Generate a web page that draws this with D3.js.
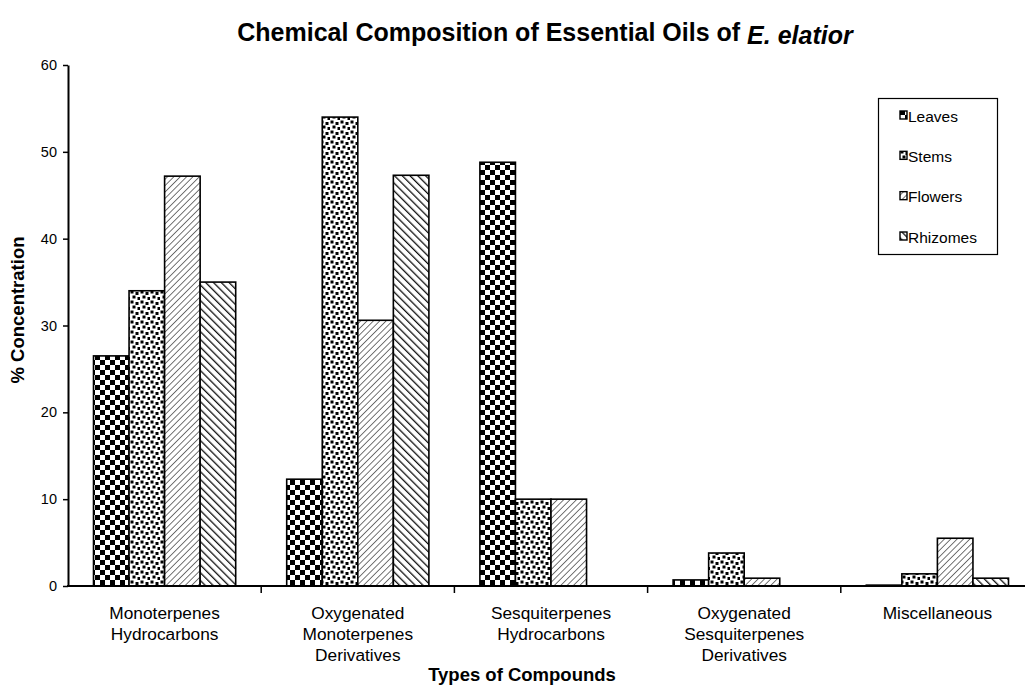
<!DOCTYPE html>
<html><head><meta charset="utf-8">
<script src="https://cdn.jsdelivr.net/npm/d3@7"></script>
<style>
html,body{margin:0;padding:0;background:#fff;}
svg{display:block;font-family:"Liberation Sans",Arial,sans-serif;}
</style></head>
<body>
<svg id="chart" width="1025" height="688"></svg>
<script>
const categories = ["Monoterpenes Hydrocarbons","Oxygenated Monoterpenes Derivatives","Sesquiterpenes Hydrocarbons","Oxygenated Sesquiterpenes Derivatives","Miscellaneous"];
const categoryLines = [["Monoterpenes","Hydrocarbons"],["Oxygenated","Monoterpenes","Derivatives"],["Sesquiterpenes","Hydrocarbons"],["Oxygenated","Sesquiterpenes","Derivatives"],["Miscellaneous"]];
const series = ["Leaves","Stems","Flowers","Rhizomes"];
const leaves   = [26.5, 12.3, 48.8, 0.7, 0.1];
const stems    = [34.0, 54.0, 10.0, 3.8, 1.4];
const flowers  = [47.2, 30.6, 10.0, 0.9, 5.5];
const rhizomes = [35.0, 47.3, 0.0, 0.0, 0.9];
const yTicks = [0,10,20,30,40,50,60];
const values = {Leaves:leaves, Stems:stems, Flowers:flowers, Rhizomes:rhizomes};

const svg = d3.select("#chart");
const defs = svg.append("defs");

// Patterns
const pChk = defs.append("pattern").attr("id","p-Leaves").attr("patternUnits","userSpaceOnUse").attr("width",10).attr("height",10);
pChk.append("rect").attr("width",10).attr("height",10).attr("fill","#fff");
pChk.append("rect").attr("width",5).attr("height",5).attr("fill","#000");
pChk.append("rect").attr("x",5).attr("y",5).attr("width",5).attr("height",5).attr("fill","#000");

const pDot = defs.append("pattern").attr("id","p-Stems").attr("patternUnits","userSpaceOnUse").attr("width",10).attr("height",10);
pDot.append("rect").attr("width",10).attr("height",10).attr("fill","#fff");
[[0.5,0.5],[5.5,2],[2.5,5.5],[7.5,7]].forEach(([x,y])=>{
  pDot.append("rect").attr("x",x).attr("y",y).attr("width",3).attr("height",3).attr("fill","#000");
});

const pFl = defs.append("pattern").attr("id","p-Flowers").attr("patternUnits","userSpaceOnUse").attr("width",4.5).attr("height",4.5).attr("patternTransform","rotate(45)");
pFl.append("rect").attr("width",4.5).attr("height",4.5).attr("fill","#fff");
pFl.append("line").attr("x1",0).attr("y1",0).attr("x2",0).attr("y2",4.5).attr("stroke","#666").attr("stroke-width",1.8);

const pRh = defs.append("pattern").attr("id","p-Rhizomes").attr("patternUnits","userSpaceOnUse").attr("width",5.5).attr("height",5.5).attr("patternTransform","rotate(-45)");
pRh.append("rect").attr("width",5.5).attr("height",5.5).attr("fill","#fff");
pRh.append("line").attr("x1",0).attr("y1",0).attr("x2",0).attr("y2",5.5).attr("stroke","#111").attr("stroke-width",2.6);

// Scales
const x0 = d3.scaleBand().domain(categories).range([68, 1034]).paddingInner(0).paddingOuter(0);
const bw = x0.bandwidth();
const pad = bw*0.132;
const x1 = d3.scaleBand().domain(series).range([pad, bw-pad]);
const y = d3.scaleLinear().domain([0,60]).range([586,65]);

// Bars
series.forEach(s=>{
  svg.append("g").selectAll("rect").data(categories).join("rect")
    .attr("x", (c)=> x0(c)+x1(s))
    .attr("y", (c,i)=> y(values[s][i]))
    .attr("width", x1.bandwidth())
    .attr("height", (c,i)=> y(0)-y(values[s][i]))
    .attr("fill", `url(#p-${s})`)
    .attr("stroke","#000").attr("stroke-width",1.6)
    .attr("display",(c,i)=> values[s][i]>0?null:"none");
});

// Y axis
const yAxis = svg.append("g").attr("transform","translate(68,0)")
  .call(d3.axisLeft(y).tickValues(yTicks).tickSize(5).tickSizeOuter(0).tickPadding(6));
yAxis.select(".domain").attr("stroke","#000").attr("stroke-width",2);
yAxis.selectAll(".tick line").attr("stroke","#000").attr("stroke-width",1.5);
yAxis.selectAll(".tick text").attr("font-size",14.5).attr("fill","#000").attr("font-family","Liberation Sans, Arial, sans-serif");

// X axis line
svg.append("line").attr("x1",67).attr("x2",1025).attr("y1",y(0)).attr("y2",y(0)).attr("stroke","#000").attr("stroke-width",2);
svg.append("g").selectAll("line").data(categories.slice(1)).join("line")
  .attr("x1",c=>x0(c)).attr("x2",c=>x0(c)).attr("y1",y(0)).attr("y2",y(0)+7)
  .attr("stroke","#000").attr("stroke-width",1.5);

// Category labels
const lab = svg.append("g").selectAll("text").data(categories).join("text")
  .attr("text-anchor","middle").attr("font-size",17.3).attr("fill","#000")
  .attr("transform", c=>`translate(${x0(c)+bw/2},619)`);
lab.each(function(c,i){
  d3.select(this).selectAll("tspan").data(categoryLines[i]).join("tspan")
    .attr("x",0).attr("dy",(d,j)=> j===0?0:21).text(d=>d);
});

// Axis titles
svg.append("text").attr("x",522).attr("y",681).attr("text-anchor","middle")
  .attr("font-size",18.5).attr("font-weight","bold").text("Types of Compounds");
svg.append("text").attr("transform","translate(24,310) rotate(-90)").attr("text-anchor","middle")
  .attr("font-size",18.5).attr("font-weight","bold").text("% Concentration");

// Title
const t = svg.append("text").attr("x",545).attr("y",41).attr("text-anchor","middle")
  .attr("font-size",25).attr("font-weight","bold");
t.append("tspan").text("Chemical Composition of Essential Oils of ");
t.append("tspan").attr("font-style","italic").attr("dy",3).text("E. elatior");

// Legend
const lg = svg.append("g");
lg.append("rect").attr("x",878.5).attr("y",98.5).attr("width",119).attr("height",156)
  .attr("fill","#fff").attr("stroke","#000").attr("stroke-width",1.2);
const ly = d3.scalePoint().domain(series).range([116,237]);
series.forEach(s=>{
  lg.append("rect").attr("x",900).attr("y",ly(s)-5).attr("width",7).attr("height",8)
    .attr("fill",`url(#p-${s})`).attr("stroke","#000").attr("stroke-width",1.4);
  lg.append("text").attr("x",908).attr("y",ly(s)+5.5).attr("font-size",15.5).text(s);
});
</script>
</body></html>
